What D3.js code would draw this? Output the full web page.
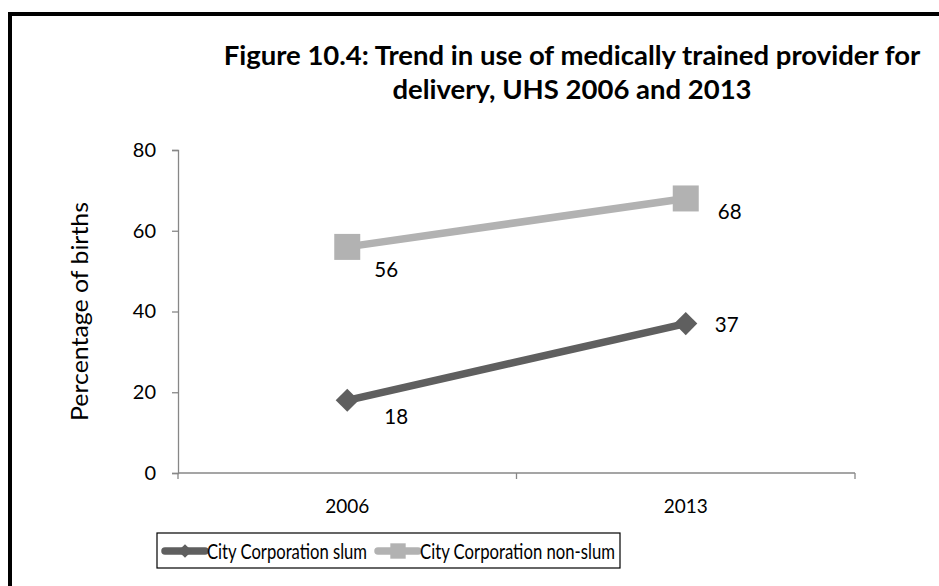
<!DOCTYPE html>
<html>
<head>
<meta charset="utf-8">
<script src="https://cdn.jsdelivr.net/npm/d3@7"></script>
<style>
  html, body { margin: 0; padding: 0; background: #fff; }
  svg { display: block; font-family: Lato, "Open Sans", sans-serif; }
</style>
</head>
<body>
<svg id="chart" width="939" height="586"></svg>
<script>
// Survey years on the x axis
const years = ["2006", "2013"];
// Percentage of births delivered by a medically trained provider
const slumValues = [18, 37];
const nonSlumValues = [56, 68];
const seriesNames = ["City Corporation slum", "City Corporation non-slum"];
const yTicks = [0, 20, 40, 60, 80];
const titleLines = [
  "Figure 10.4: Trend in use of medically trained provider for",
  "delivery, UHS 2006 and 2013"
];
const yTitle = "Percentage of births";

const W = 939, H = 586;
const margin = { left: 178, right: 84, top: 150, bottom: 113 };
const svg = d3.select("#chart");
const FONT = "Lato, sans-serif";

// Outer frame (runs off the right and bottom edges)
svg.append("rect")
  .attr("x", 10).attr("y", 14)
  .attr("width", W + 20).attr("height", H + 20)
  .attr("fill", "#fff").attr("stroke", "#000").attr("stroke-width", 4);

const x = d3.scaleBand().domain(years)
  .range([margin.left, W - margin.right]).paddingInner(0).paddingOuter(0);
const y = d3.scaleLinear().domain([0, 80])
  .range([H - margin.bottom, margin.top]);

// Title
const title = svg.append("text")
  .attr("text-anchor", "middle")
  .attr("font-weight", "bold").attr("font-size", 27.5).attr("fill", "#000");
titleLines.forEach((t, i) => {
  title.append("tspan").attr("x", 572).attr("y", 65 + i * 34).text(t);
});

const axisColor = "#878787";

// Y axis
const yAxis = svg.append("g")
  .attr("transform", `translate(${margin.left},0)`)
  .call(d3.axisLeft(y).tickValues(yTicks).tickSize(6).tickPadding(16));
yAxis.attr("font-family", FONT).attr("font-size", 20);
yAxis.select(".domain").attr("stroke", axisColor).attr("stroke-width", 1.3);
yAxis.selectAll(".tick line").attr("stroke", axisColor).attr("stroke-width", 1.3);
yAxis.selectAll(".tick text").attr("fill", "#000");

// X axis with category boundary ticks
const xAxisG = svg.append("g")
  .attr("transform", `translate(0,${y(0)})`);
xAxisG.append("line")
  .attr("x1", x.range()[0]).attr("x2", x.range()[1])
  .attr("stroke", axisColor).attr("stroke-width", 1.3);
const boundaries = years.map(d => x(d)).concat([x.range()[1]]);
xAxisG.selectAll("line.tk").data(boundaries).join("line")
  .attr("class", "tk")
  .attr("x1", d => d).attr("x2", d => d)
  .attr("y1", 0).attr("y2", 6)
  .attr("stroke", axisColor).attr("stroke-width", 1.3);
xAxisG.selectAll("text").data(years).join("text")
  .attr("x", d => x(d) + x.bandwidth() / 2)
  .attr("y", 40)
  .attr("text-anchor", "middle")
  .attr("font-size", 19).attr("fill", "#000")
  .text(d => d);

// Y axis title
svg.append("text")
  .attr("transform", `translate(88,${(y(0) + y(80)) / 2}) rotate(-90)`)
  .attr("text-anchor", "middle")
  .attr("font-size", 23.5).attr("fill", "#000")
  .attr("textLength", 219).attr("lengthAdjust", "spacingAndGlyphs")
  .text(yTitle);

const cx = d => x(d) + x.bandwidth() / 2;

const series = [
  { name: seriesNames[0], values: slumValues, color: "#5f5f5f", symbol: d3.symbolDiamond2, size: 340,
    labelDx: [49, 41], labelDy: [24, 8] },
  { name: seriesNames[1], values: nonSlumValues, color: "#b2b2b2", symbol: d3.symbolSquare, size: 676,
    labelDx: [39, 44], labelDy: [30, 21] }
];

const line = d3.line().x(d => cx(d.year)).y(d => y(d.value));

series.forEach(s => {
  const pts = years.map((yr, i) => ({ year: yr, value: s.values[i] }));
  svg.append("path")
    .datum(pts)
    .attr("d", line)
    .attr("fill", "none")
    .attr("stroke", s.color)
    .attr("stroke-width", 7.5);
  svg.selectAll(null).data(pts).join("path")
    .attr("transform", d => `translate(${cx(d.year)},${y(d.value)})`)
    .attr("d", d3.symbol().type(s.symbol).size(s.size))
    .attr("fill", s.color);
  svg.selectAll(null).data(pts).join("text")
    .attr("x", (d, i) => cx(d.year) + s.labelDx[i])
    .attr("y", (d, i) => y(d.value) + s.labelDy[i])
    .attr("text-anchor", "middle")
    .attr("font-size", 20.5).attr("fill", "#000")
    .text(d => d.value);
});

// Legend
const legend = svg.append("g");
legend.append("rect")
  .attr("x", 157).attr("y", 533).attr("width", 463).attr("height", 35)
  .attr("fill", "#fff").attr("stroke", "#000").attr("stroke-width", 1.2);
const legendItems = [
  { s: series[0], x0: 165, tx: 207, len: 160 },
  { s: series[1], x0: 378, tx: 420, len: 195 }
];
legendItems.forEach(it => {
  legend.append("line")
    .attr("x1", it.x0).attr("x2", it.x0 + 40)
    .attr("y1", 551).attr("y2", 551)
    .attr("stroke", it.s.color).attr("stroke-width", 7.5)
    .attr("stroke-linecap", "round");
  legend.append("path")
    .attr("transform", `translate(${it.x0 + 20},551)`)
    .attr("d", d3.symbol().type(it.s.symbol).size(it.s.size * 0.35))
    .attr("fill", it.s.color);
  legend.append("text")
    .attr("x", it.tx).attr("y", 558.5)
    .attr("font-size", 20.5).attr("fill", "#000")
    .attr("textLength", it.len)
    .attr("lengthAdjust", "spacingAndGlyphs")
    .text(it.s.name);
});
</script>
</body>
</html>
